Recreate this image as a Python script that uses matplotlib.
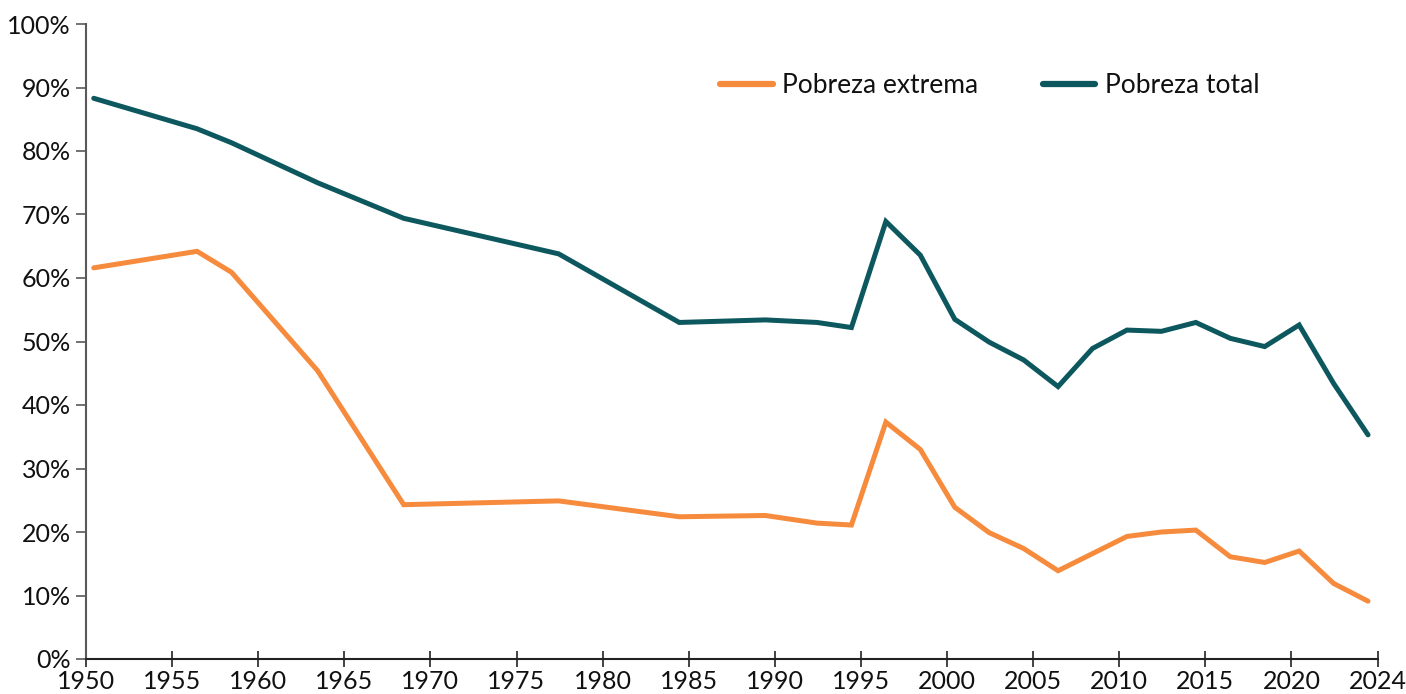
import matplotlib
matplotlib.use("Agg")
import matplotlib.pyplot as plt
import numpy as np

years = [1950, 1956, 1958, 1963, 1968, 1977, 1984, 1989, 1992, 1994, 1996, 1998,
         2000, 2002, 2004, 2006, 2008, 2010, 2012, 2014, 2016, 2018, 2020, 2022, 2024]
pobreza_extrema = [61.6, 64.2, 60.9, 45.4, 24.3, 24.9, 22.4, 22.6, 21.4, 21.1, 37.3, 33.0,
                   23.9, 19.9, 17.4, 13.9, 16.6, 19.3, 20.0, 20.3, 16.1, 15.2, 17.0, 11.9, 9.1]
pobreza_total = [88.3, 83.5, 81.3, 75.0, 69.4, 63.8, 53.0, 53.4, 53.0, 52.2, 68.9, 63.6,
                 53.5, 49.9, 47.1, 42.9, 48.9, 51.8, 51.6, 53.0, 50.5, 49.2, 52.6, 43.4, 35.3]
tick_years = [1950, 1955, 1960, 1965, 1970, 1975, 1980, 1985, 1990, 1995, 2000, 2005, 2010, 2015, 2020, 2025]
tick_labels = ["1950", "1955", "1960", "1965", "1970", "1975", "1980", "1985", "1990",
               "1995", "2000", "2005", "2010", "2015", "2020", "2024"]
y_ticks = [0, 10, 20, 30, 40, 50, 60, 70, 80, 90, 100]

plt.rcParams['font.family'] = ['Lato', 'DejaVu Sans']

fig = plt.figure(figsize=(14.06, 6.94), dpi=100)
ax = fig.add_axes([86/1406, 1-659/694, (1377.5-86)/1406, (659-24)/694])

x = np.array(years) + 0.45
ax.plot(x, pobreza_extrema, color="#F68B3D", lw=3.6, label="Pobreza extrema",
        solid_joinstyle="miter", solid_capstyle="round")
ax.plot(x, pobreza_total, color="#0C585E", lw=3.6, label="Pobreza total",
        solid_joinstyle="miter", solid_capstyle="round")

ax.set_xlim(1950, 2025)
ax.set_ylim(0, 100)
ax.set_xticks(tick_years)
ax.set_xticklabels(tick_labels)
ax.set_yticks(y_ticks)
ax.set_yticklabels([f"{v}%" for v in y_ticks])

for s in ["top", "right"]:
    ax.spines[s].set_visible(False)
ax.spines["left"].set_color("#595959")
ax.spines["left"].set_linewidth(1.5)
ax.spines["bottom"].set_color("#222222")
ax.spines["bottom"].set_linewidth(1.5)

ax.tick_params(axis="x", direction="inout", length=12, width=1.2, color="#222222",
               labelsize=18, pad=2, labelcolor="#111111")
ax.tick_params(axis="y", direction="out", length=7, width=1.2, color="#595959",
               labelsize=18, pad=4, labelcolor="#111111")

leg = ax.legend(loc="center", bbox_to_anchor=(0.6996, 0.903), ncol=2, frameon=False,
                fontsize=19.0, handlelength=2.0, handletextpad=0.35, columnspacing=2.45)
for t in leg.get_texts():
    t.set_color("#111111")
for h in leg.get_lines():
    h.set_linewidth(4.5)
    h.set_solid_capstyle("round")

fig.savefig("out.png", dpi=100)
